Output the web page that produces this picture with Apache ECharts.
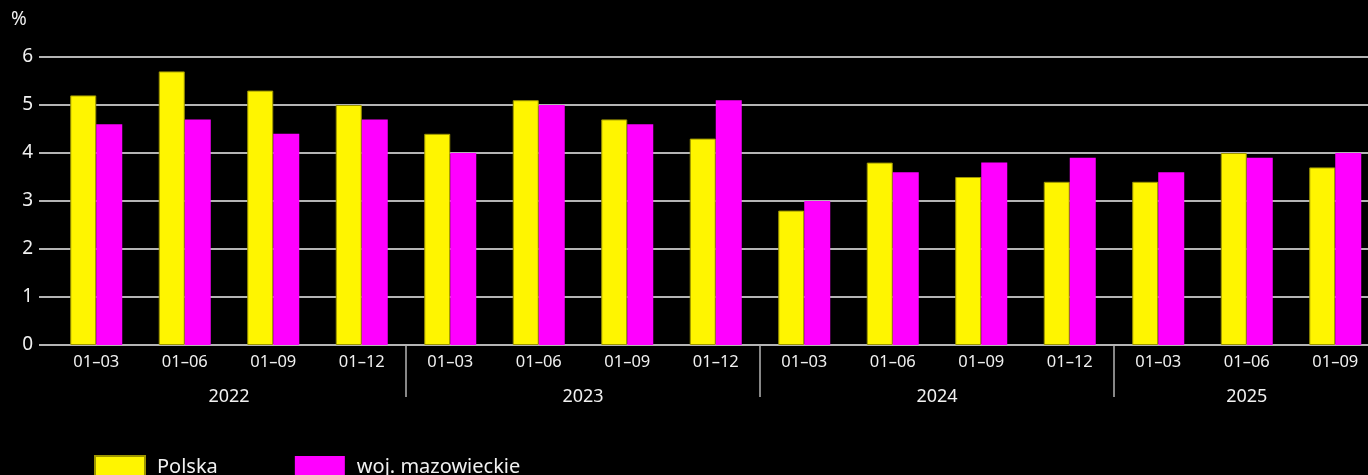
<!DOCTYPE html>
<html>
<head>
<meta charset="utf-8">
<script src="https://cdn.jsdelivr.net/npm/echarts@6/dist/echarts.min.js"></script>
<style>
html,body{margin:0;padding:0;background:#000;overflow:hidden;width:1368px;height:475px;}
#chart{width:1390px;height:475px;}
</style>
</head>
<body>
<div id="chart"></div>
<script>
const categories = ['01–03','01–06','01–09','01–12','01–03','01–06','01–09','01–12','01–03','01–06','01–09','01–12','01–03','01–06','01–09'];
const years = ['2022','2023','2024','2025'];
const yearSizes = [4,4,4,3];
const polska = [5.2,5.7,5.3,5.0, 4.4,5.1,4.7,4.3, 2.8,3.8,3.5,3.4, 3.4,4.0,3.7];
const mazowieckie = [4.6,4.7,4.4,4.7, 4.0,5.0,4.6,5.1, 3.0,3.6,3.8,3.9, 3.6,3.9,4.0];
const seriesNames = ['Polska','woj. mazowieckie'];

// group boundaries and centers (in category units)
const boundaries = [];
const centers = {};
let acc = 0;
years.forEach((y, i) => {
  centers[(acc + yearSizes[i] / 2).toFixed(1)] = y;
  acc += yearSizes[i];
  if (i < years.length - 1) boundaries.push(acc);
});

const FONT = '"Noto Sans", "DejaVu Sans", sans-serif';
const TXT = '#f0f0f0';
const chart = echarts.init(document.getElementById('chart'));
const gridTop = 57, gridBottom = 130;
chart.setOption({
  backgroundColor: '#000',
  animation: false,
  grid: [
    {left: 52, top: gridTop, bottom: gridBottom, width: 1327.5},
    {left: 39, top: gridTop, bottom: gridBottom, right: 0}
  ],
  graphic: [{
    type: 'text', left: 11, top: 10,
    style: {text: '%', fill: TXT, font: '19px ' + FONT}
  }],
  legend: {
    left: 94, top: 455, padding: 0,
    itemWidth: 50, itemHeight: 22, itemGap: 77,
    icon: 'rect',
    textStyle: {color: TXT, fontSize: 20, fontFamily: FONT, padding: [0, 0, 0, 7]},
    data: seriesNames
  },
  xAxis: [
    {
      type: 'category', gridIndex: 0, data: categories,
      axisLine: {show: false},
      axisTick: {
        show: true, length: 52,
        interval: function (idx) { return boundaries.indexOf(idx) >= 0; },
        lineStyle: {color: '#b4b4b4', width: 1.5}
      },
      axisLabel: {interval: 0, color: TXT, fontSize: 16.5, fontFamily: FONT, margin: 9},
      splitLine: {show: false}
    },
    {
      type: 'value', gridIndex: 0, min: 0, max: categories.length, interval: 0.5,
      position: 'bottom',
      axisLine: {show: false}, axisTick: {show: false}, splitLine: {show: false},
      axisLabel: {
        color: TXT, fontSize: 18, fontFamily: FONT, margin: 43,
        showMinLabel: true, showMaxLabel: true,
        formatter: function (v) { return centers[v.toFixed(1)] || ''; }
      }
    },
    {type: 'value', gridIndex: 1, min: 0, max: 1, show: false}
  ],
  yAxis: [
    {type: 'value', gridIndex: 0, min: 0, max: 6, interval: 1, show: false},
    {
      type: 'value', gridIndex: 1, min: 0, max: 6, interval: 1,
      axisLine: {show: false}, axisTick: {show: false},
      axisLabel: {color: TXT, fontSize: 19, fontFamily: FONT, margin: 6},
      splitLine: {lineStyle: {color: '#b4b4b4', width: 2}}
    }
  ],
  series: [
    {
      name: seriesNames[0], type: 'bar', xAxisIndex: 0, yAxisIndex: 0,
      data: polska, barWidth: 26, barGap: '0%',
      itemStyle: {color: '#fff500', borderColor: '#9c9400', borderWidth: 1}
    },
    {
      name: seriesNames[1], type: 'bar', xAxisIndex: 0, yAxisIndex: 0,
      data: mazowieckie, barWidth: 26, barGap: '0%',
      itemStyle: {color: '#ff00ff'}
    }
  ]
});
</script>
</body>
</html>
